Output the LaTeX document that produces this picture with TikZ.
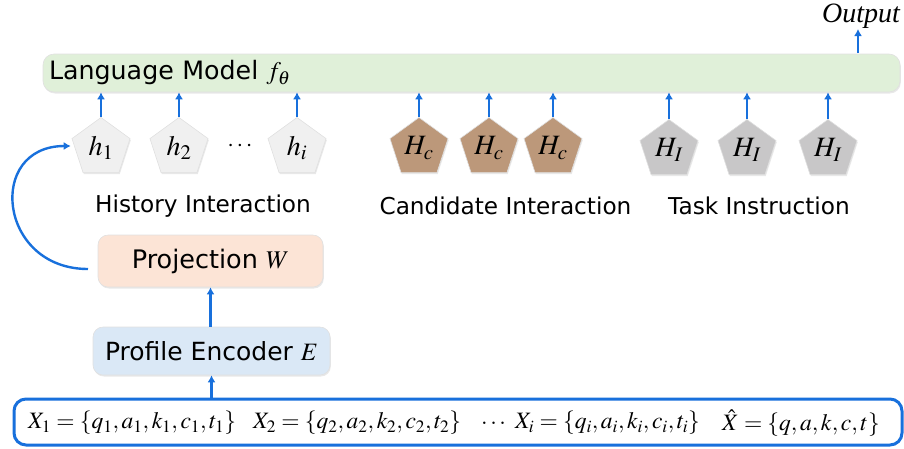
\documentclass[tikz,border=0pt]{standalone}
\usepackage{mathptmx}
\usepackage{fontspec}
\setmainfont{DejaVu Sans}
\newfontfamily\serifit{Liberation Serif}
\usetikzlibrary{shapes.geometric,arrows.meta,shadows}
\definecolor{arrblue}{RGB}{24,112,220}
\definecolor{lmgreen}{RGB}{224,240,217}
\definecolor{projpeach}{RGB}{252,228,214}
\definecolor{encblue}{RGB}{218,232,246}
\definecolor{hlight}{RGB}{240,240,240}
\definecolor{hbrown}{RGB}{188,152,122}
\definecolor{hgray}{RGB}{200,199,200}
\tikzset{
  arr/.style={draw=arrblue, line width=2.4pt, -{Latex[length=7pt,width=8pt]}},
  softshadow/.style={drop shadow={opacity=0.18, shadow xshift=0.8pt, shadow yshift=-1.5pt}},
  boxbase/.style={rounded corners=11pt, draw=black!12, line width=0.6pt, softshadow, inner sep=0pt},
  penta/.style={regular polygon, regular polygon sides=5, minimum size=61pt, inner sep=0pt, draw=black!12, line width=0.6pt, softshadow, font=\fontsize{28}{30}\selectfont},
  lbl/.style={font=\fontsize{23.2}{25}\selectfont, inner sep=0pt},
  mathtxt/.style={font=\fontsize{23.5}{26}\selectfont, inner sep=0pt, anchor=west},
}
\begin{document}
\begin{tikzpicture}[x=1pt,y=-1pt]
\useasboundingbox (0,0) rectangle (904,448);

% Language model
\node[boxbase, fill=lmgreen, minimum width=857pt, minimum height=38pt, text width=845pt, align=left, font=\fontsize{25.3}{27}\selectfont] (lm) at (471.5,73) {Language Model $f_\theta$};

% Output
\node[inner sep=0pt, anchor=base, font=\serifit\itshape\fontsize{28}{30}\selectfont] (out) at (861,22) {Output};
\coordinate (outfoot) at (858,53);
\draw[arr] (outfoot) -- (858,29);

% history pentagons
\node[penta, fill=hlight] (h1) at (101,148) {$h_1$};
\node[penta, fill=hlight] (h2) at (179,148) {$h_2$};
\node[inner sep=0pt, font=\fontsize{24}{26}\selectfont] (dots) at (240,146) {$\cdots$};
\node[penta, fill=hlight] (hi) at (297,148) {$h_i$};

% candidate pentagons
\node[penta, fill=hbrown] (c1) at (419,148) {$H_c$};
\node[penta, fill=hbrown] (c2) at (489,148) {$H_c$};
\node[penta, fill=hbrown] (c3) at (553,148) {$H_c$};

% task pentagons
\node[penta, fill=hgray] (t1) at (669,150) {$H_I$};
\node[penta, fill=hgray] (t2) at (747,150) {$H_I$};
\node[penta, fill=hgray] (t3) at (828,150) {$H_I$};

\foreach \n in {h1,h2,hi,c1,c2,c3,t1,t2,t3}{
  \draw[arr] (\n.corner 1) -- (\n.corner 1 |- lm.south);
}

% labels
\node[lbl] (lh) at (203,206) {History Interaction};
\node[lbl] (lc) at (505.5,206) {Candidate Interaction};
\node[lbl] (lt) at (759,206) {Task Instruction};

% projection and encoder
\node[boxbase, rounded corners=10pt, fill=projpeach, minimum width=225pt, minimum height=52pt, font=\fontsize{25.5}{27}\selectfont] (proj) at (210.5,261) {Projection $W$};
\node[boxbase, rounded corners=10pt, fill=encblue, minimum width=237pt, minimum height=48pt, font=\fontsize{25}{27}\selectfont] (enc) at (211.5,351) {Profile Encoder $E$};

% input box
\node[draw=arrblue, line width=3pt, rounded corners=12pt, fill=white, minimum width=888pt, minimum height=46pt, inner sep=0pt] (inp) at (458,422) {};
\node[mathtxt] (x1) at (28,423) {$X_1=\{q_1,a_1,k_1,c_1,t_1\}$};
\node[mathtxt] (x2) at (253,423) {$X_2=\{q_2,a_2,k_2,c_2,t_2\}$};
\node[mathtxt] (xd) at (481,423) {$\ldots$};
\node[mathtxt] (xi) at (515,423) {$X_i=\{q_i,a_i,k_i,c_i,t_i\}$};
\node[mathtxt] (xh) at (722,423) {$\hat{X}=\{q,a,k,c,t\}$};

% vertical arrows
\draw[arr] (inp.north -| enc.south) -- (enc.south);
\draw[arr] (enc.north -| proj.south) -- (proj.south);

% feedback curve
\coordinate (cstart) at (88,269);
\draw[arr] (cstart) .. controls (-2,269) and (-14,146) .. ([xshift=-4pt]h1.west |- 0,146);
\end{tikzpicture}
\end{document}
